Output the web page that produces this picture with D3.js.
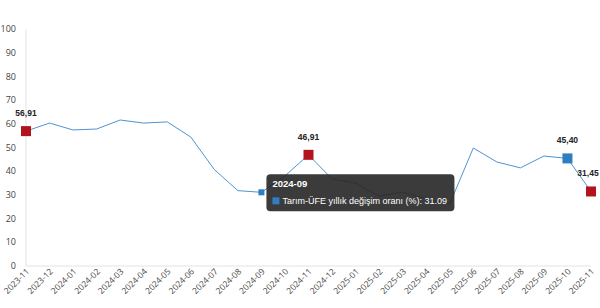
<!DOCTYPE html>
<html>
<head>
<meta charset="utf-8">
<script src="https://cdn.jsdelivr.net/npm/d3@7"></script>
<style>
  html, body { margin: 0; padding: 0; background: #fff; }
  svg { display: block; }
</style>
</head>
<body>
<svg id="chart" width="600" height="308"></svg>
<script>
const categories = ["2023-11","2023-12","2024-01","2024-02","2024-03","2024-04","2024-05","2024-06","2024-07","2024-08","2024-09","2024-10","2024-11","2024-12","2025-01","2025-02","2025-03","2025-04","2025-05","2025-06","2025-07","2025-08","2025-09","2025-10","2025-11"];
const values = [56.91,60.3,57.4,57.8,61.6,60.3,60.8,54.4,40.7,31.8,31.09,38.0,46.91,36.7,35.0,29.5,31.2,28.3,26.2,49.8,43.9,41.4,46.4,45.40,31.45];
const yTicks = [0,10,20,30,40,50,60,70,80,90,100];
const redMarks = ["2023-11","2024-11","2025-11"];
const blueMarks = ["2025-10"];
const hoverCat = "2024-09";
const seriesName = "Tarım-ÜFE yıllık değişim oranı (%)";

const svg = d3.select("#chart");
const x = d3.scalePoint().domain(categories).range([26, 591]);
const y = d3.scaleLinear().domain([0, 100]).range([266, 29]);
const data = categories.map((c, i) => ({c, v: values[i]}));
const fmt = v => v.toFixed(2).replace(".", ",");

// axes lines
svg.append("line").attr("x1", x(categories[0])).attr("x2", x(categories[0]))
  .attr("y1", y(100)).attr("y2", y(0)).attr("stroke", "#e3e3e3").attr("stroke-width", 1);
svg.append("line").attr("x1", x(categories[0])).attr("x2", x(categories[categories.length-1]))
  .attr("y1", y(0)).attr("y2", y(0)).attr("stroke", "#e3e3e3").attr("stroke-width", 1);

// y labels
svg.append("g").selectAll("text").data(yTicks).join("text")
  .attr("x", 16).attr("y", d => y(d)).attr("dy", "0.35em")
  .attr("text-anchor", "end")
  .attr("font-family", "'Open Sans', sans-serif").attr("font-size", 9)
  .attr("fill", "#444").text(d => d);

// x labels
svg.append("g").selectAll("text").data(categories).join("text")
  .attr("text-anchor", "end")
  .attr("transform", d => `translate(${x(d)+4},${y(0)+6}) rotate(-45)`)
  .attr("font-family", "'Open Sans', sans-serif").attr("font-size", 8.5)
  .attr("fill", "#444").text(d => d);

// line
svg.append("path").datum(data)
  .attr("fill", "none").attr("stroke", "#4f93d2").attr("stroke-width", 1)
  .attr("d", d3.line().x(d => x(d.c)).y(d => y(d.v)));

// markers
const marks = data.filter(d => redMarks.includes(d.c) || blueMarks.includes(d.c));
svg.append("g").selectAll("rect").data(marks).join("rect")
  .attr("x", d => x(d.c) - 5).attr("y", d => y(d.v) - 5)
  .attr("width", 10).attr("height", 10)
  .attr("fill", d => redMarks.includes(d.c) ? "#b3131d" : "#2f7ec0");

// hovered marker
const hd = data.find(d => d.c === hoverCat);
svg.append("rect").attr("x", x(hd.c) - 3).attr("y", y(hd.v) - 3)
  .attr("width", 6).attr("height", 6).attr("fill", "#2f7ec0");

// data labels (kept inside the canvas)
svg.append("g").selectAll("text").data(marks).join("text")
  .attr("x", d => Math.min(x(d.c), 588)).attr("y", d => y(d.v) - 15)
  .attr("text-anchor", "middle")
  .attr("font-family", "'Liberation Sans', Arial, sans-serif").attr("font-weight", "bold")
  .attr("font-size", 8.5).attr("fill", "#222").text(d => fmt(d.v));

// tooltip
const tx = x(hd.c) + 5, ty = y(hd.v) - 18;
const tip = svg.append("g").attr("transform", `translate(${tx},${ty})`);
tip.append("rect").attr("width", 188).attr("height", 37).attr("rx", 4)
  .attr("fill", "rgba(38,38,38,0.9)");
tip.append("text").attr("x", 6).attr("y", 13)
  .attr("font-family", "'Liberation Sans', Arial, sans-serif").attr("font-weight", "bold")
  .attr("font-size", 9.5).attr("fill", "#fff").text(hd.c);
tip.append("rect").attr("x", 6).attr("y", 23).attr("width", 7).attr("height", 7).attr("fill", "#2f7ec0");
tip.append("text").attr("x", 16).attr("y", 30)
  .attr("font-family", "'Liberation Sans', Arial, sans-serif")
  .attr("font-size", 9).attr("fill", "#fff")
  .text(`${seriesName}: ${hd.v.toFixed(2)}`);
</script>
</body>
</html>
